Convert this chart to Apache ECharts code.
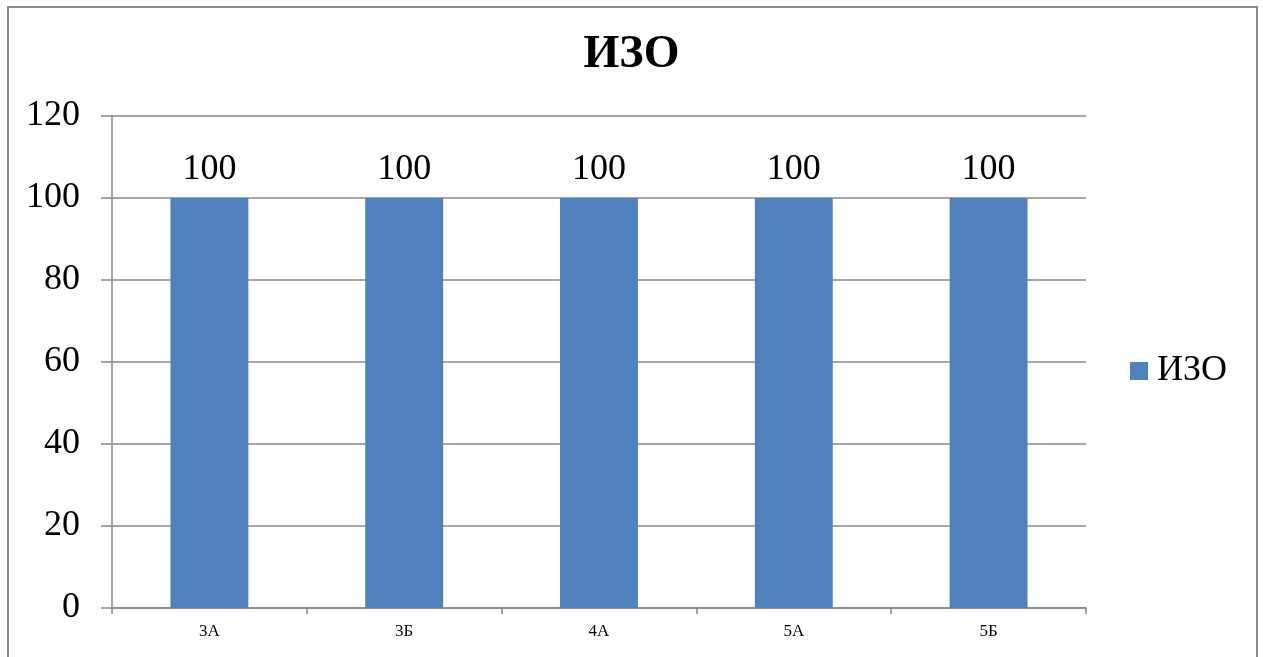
<!DOCTYPE html>
<html>
<head>
<meta charset="utf-8">
<script src="https://cdn.jsdelivr.net/npm/echarts@6/dist/echarts.min.js"></script>
<style>
html,body{margin:0;padding:0;background:#fff;}
#frame{position:absolute;left:7px;top:6px;width:1251px;height:700px;border:2px solid #888;border-bottom:none;box-sizing:border-box;}
#chart{position:absolute;left:0;top:0;width:1263px;height:657px;}
</style>
</head>
<body>
<div id="frame"></div>
<div id="chart"></div>
<script>
const titleText = 'ИЗО';
const categories = ['3А', '3Б', '4А', '5А', '5Б'];
const seriesName = 'ИЗО';
const values = [100, 100, 100, 100, 100];
const yTicks = { min: 0, max: 120, interval: 20 };

const font = '"Liberation Serif", "Times New Roman", serif';
const chart = echarts.init(document.getElementById('chart'), null, { renderer: 'canvas' });
chart.setOption({
  backgroundColor: 'transparent',
  animation: false,
  title: {
    text: titleText, left: 'center', top: 27,
    textStyle: { fontFamily: font, fontSize: 46, fontWeight: 'bold', color: '#000' }
  },
  legend: {
    orient: 'vertical', left: 1125, top: 348,
    itemWidth: 18, itemHeight: 18, itemGap: 6,
    icon: 'rect',
    textStyle: { fontFamily: font, fontSize: 36, color: '#000', padding: [0, 0, 0, 4] },
    data: [seriesName]
  },
  grid: { left: 112, right: 177, top: 116, bottom: 49, containLabel: false },
  xAxis: {
    type: 'category', data: categories,
    axisLine: { lineStyle: { color: '#888', width: 1.5 } },
    axisTick: { show: true, length: 6, alignWithLabel: false, lineStyle: { color: '#888', width: 1.5 } },
    axisLabel: { fontFamily: font, fontSize: 17, color: '#000', margin: 15 }
  },
  yAxis: {
    type: 'value', min: yTicks.min, max: yTicks.max, interval: yTicks.interval,
    axisLine: { show: true, lineStyle: { color: '#888', width: 1.5 } },
    axisTick: { show: true, length: 11, lineStyle: { color: '#888', width: 1.5 } },
    axisLabel: { fontFamily: font, fontSize: 36, color: '#000', margin: 32, padding: [5, 0, 0, 0] },
    splitLine: { lineStyle: { color: '#888', width: 1.5 } }
  },
  series: [{
    name: seriesName, type: 'bar', data: values,
    barWidth: '40%',
    itemStyle: { color: '#4F81BD' },
    label: { show: true, position: 'top', distance: 10, fontFamily: font, fontSize: 36, color: '#000' }
  }]
});
</script>
</body>
</html>
